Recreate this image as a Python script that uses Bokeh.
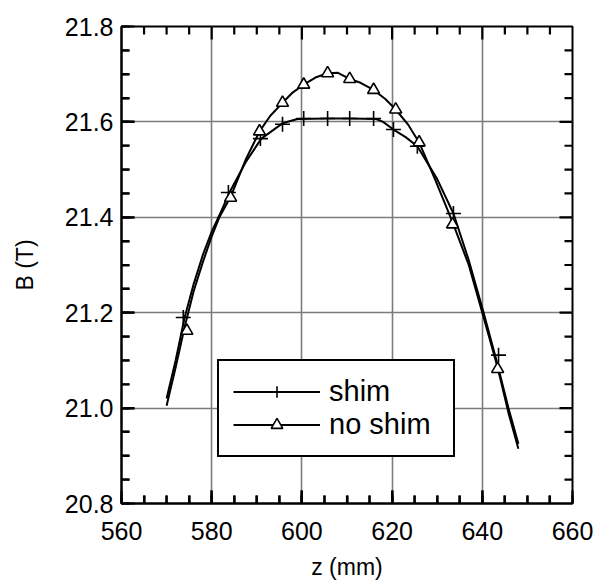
import numpy as np
from bokeh.plotting import figure
from bokeh.models import (SingleIntervalTicker, Range1d, Legend, LegendItem,
                          NumeralTickFormatter)
from bokeh.embed import file_html
from bokeh.resources import INLINE

# ---- data ----
shim_line_z = [570, 572, 574, 576, 578, 580, 581.5, 584, 587.5, 591, 595.7, 599,
               605.7, 610.6, 616.5, 618, 620.3, 623, 625.6, 630, 633.6, 637,
               640.3, 643, 645.8, 648]
shim_line_b = [21.02, 21.10, 21.19, 21.26, 21.32, 21.37, 21.40, 21.453, 21.515,
               21.565, 21.597, 21.606, 21.607, 21.607, 21.606, 21.600, 21.584,
               21.568, 21.549, 21.48, 21.408, 21.31, 21.20, 21.105, 21.0, 20.925]

noshim_line_z = [570, 572, 574, 576, 578, 580, 581.7, 584.2, 587.5, 590.6, 593,
                 595.7, 598, 600.4, 603, 605.7, 608, 610.6, 613, 615.9, 618.5,
                 620.8, 623.5, 626, 629.5, 633.4, 637, 640.3, 643.4, 645.8, 648]
noshim_line_b = [21.005, 21.085, 21.17, 21.245, 21.305, 21.36, 21.40, 21.443,
                 21.52, 21.58, 21.613, 21.64, 21.662, 21.678, 21.693, 21.702,
                 21.703, 21.69, 21.682, 21.667, 21.648, 21.626, 21.595, 21.557,
                 21.48, 21.39, 21.30, 21.19, 21.085, 20.99, 20.915]

shim_mark_z = [573.7, 583.7, 590.8, 595.7, 600.4, 605.7, 610.6, 615.9, 620.3,
               625.6, 633.6, 643.6]
shim_mark_b = [21.19, 21.452, 21.565, 21.595, 21.607, 21.607, 21.607, 21.607,
               21.584, 21.549, 21.408, 21.111]

noshim_mark_z = [574.5, 584.2, 590.6, 595.7, 600.4, 605.7, 610.6, 615.9, 620.8,
                 626.0, 633.4, 643.4]
noshim_mark_b = [21.162, 21.441, 21.58, 21.64, 21.678, 21.702, 21.69, 21.667,
                 21.626, 21.557, 21.385, 21.082]

labels = ["shim", "no shim"]

x_ticks = [560, 580, 600, 620, 640, 660]
y_ticks = [20.8, 21.0, 21.2, 21.4, 21.6, 21.8]
x_minor_step = 5
y_minor_step = 0.05

FONT = "Liberation Sans"

W, H = 596, 584
BL, BR, BT, BB = 121, 24, 26, 81

p = figure(width=W, height=H, x_range=Range1d(560, 660),
           y_range=Range1d(20.8, 21.8), output_backend="svg",
           toolbar_location=None, x_axis_label="z (mm)", y_axis_label="B (T)",
           min_border_left=BL, min_border_right=BR, min_border_top=BT,
           min_border_bottom=BB)

p.outline_line_color = "black"
p.outline_line_width = 2
p.outline_line_alpha = 1.0

xt = SingleIntervalTicker(interval=20, num_minor_ticks=4)
yt = SingleIntervalTicker(interval=0.2, num_minor_ticks=4)
p.xaxis.ticker = xt
p.yaxis.ticker = yt
p.xgrid.ticker = xt
p.ygrid.ticker = yt

for g in (p.xgrid, p.ygrid):
    g.grid_line_color = "#7c7c7c"
    g.grid_line_width = 1.6

TW = 2.2
for ax in (p.xaxis, p.yaxis):
    ax.axis_line_color = "black"
    ax.axis_line_width = 2
    ax.major_tick_in = 13
    ax.major_tick_out = 0
    ax.minor_tick_in = 8
    ax.minor_tick_out = 0
    ax.major_tick_line_color = "black"
    ax.minor_tick_line_color = "black"
    ax.major_tick_line_width = TW
    ax.minor_tick_line_width = TW
    ax.major_label_text_font = FONT
    ax.major_label_text_font_size = "25px"
    ax.major_label_text_color = "black"
    ax.axis_label_text_font = FONT
    ax.axis_label_text_font_size = "23px"
    ax.axis_label_text_font_style = "normal"
    ax.axis_label_text_color = "black"

p.xaxis.major_label_standoff = 18
p.xaxis.axis_label_standoff = 11
p.yaxis.major_label_standoff = 8
p.yaxis.axis_label_standoff = 24
p.yaxis.formatter = NumeralTickFormatter(format="0.0")

# inward tick marks on all four edges, drawn as small filled bars inside frame
xmin, xmax = x_ticks[0], x_ticks[-1]
ymin, ymax = y_ticks[0], y_ticks[-1]
fw = W - BL - BR
fh = H - BT - BB
dx_per_px = (xmax - xmin) / fw
dy_per_px = (ymax - ymin) / fh
x_minor = [float(v) for v in np.arange(xmin, xmax + 1e-9, x_minor_step)
           if not any(abs(v - t) < 1e-9 for t in x_ticks)]
y_minor = [float(v) for v in np.arange(ymin, ymax + 1e-9, y_minor_step)
           if not any(abs(v - t) < 1e-6 for t in y_ticks)]

for xs, ln in ((x_ticks[1:-1], 13), (x_minor, 8)):
    xs = [float(v) for v in xs]
    n = len(xs)
    for yc in (ymin + 0.5 * ln * dy_per_px, ymax - 0.5 * ln * dy_per_px):
        p.rect(xs, [yc] * n, width=TW, height=ln, width_units="screen",
               height_units="screen", fill_color="black", line_color=None)
for ys, ln in ((y_ticks[1:-1], 13), (y_minor, 8)):
    ys = [float(v) for v in ys]
    n = len(ys)
    for xc in (xmin + 0.5 * ln * dx_per_px, xmax - 0.5 * ln * dx_per_px):
        p.rect([xc] * n, ys, width=ln, height=TW, width_units="screen",
               height_units="screen", fill_color="black", line_color=None)

l1 = p.line(shim_line_z, shim_line_b, line_color="black", line_width=2)
m1 = p.scatter(shim_mark_z, shim_mark_b, marker="cross", size=15,
               line_color="black", line_width=1.6)
l2 = p.line(noshim_line_z, noshim_line_b, line_color="black", line_width=2)
m2 = p.scatter(noshim_mark_z, noshim_mark_b, marker="triangle", size=12,
               line_color="black", fill_color="white", line_width=1.6)

legend = Legend(items=[LegendItem(label=labels[0], renderers=[l1, m1]),
                       LegendItem(label=labels[1], renderers=[l2, m2])],
                location=(96, 46), orientation="vertical",
                label_text_font=FONT, label_text_font_size="29px",
                label_text_color="black", glyph_width=87, glyph_height=29,
                label_height=29, label_width=110, label_standoff=9, spacing=0,
                padding=14, margin=0, border_line_color="black",
                border_line_width=2, border_line_alpha=1.0,
                background_fill_alpha=1.0)
p.add_layout(legend, "center")

open("out.html", "w").write(file_html(p, INLINE))
